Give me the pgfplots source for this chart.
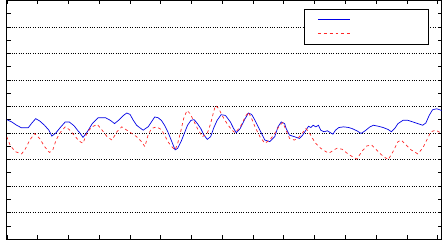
\documentclass[border=0pt]{standalone}
\usepackage{pgfplots}
\pgfplotsset{compat=1.18}
\begin{document}
\begin{tikzpicture}
\begin{axis}[
  scale only axis,
  width=441pt, height=242pt,
  xmin=0, xmax=441, ymin=0, ymax=242,
  y dir=reverse,
  axis line style={black, line width=0.6pt},
  xtick={0,31.2,62.4,93.6,124.8,156,187.2,218.4,249.6,280.8,312,343.2,374.4,405.6,436.8},
  ytick={26.9,53.8,80.7,107.6,134.4,161.3,188.2,215.1},
  minor ytick={13.4,40.3,67.2,94.1,121,147.9,174.8,201.7,228.6},
  xticklabels={}, yticklabels={},
  tick align=inside,
  major tick length=4pt, minor tick length=4pt,
  tick style={black, line width=0.5pt},
  ymajorgrids=true,
  major grid style={black, dotted, line width=0.6pt},
  legend image code/.code={\path[draw=none,fill=none] (0pt,-7pt) rectangle (33pt,7pt); \draw[#1] (0pt,0pt) -- (33pt,0pt);},
  legend style={at={(1,1)}, anchor=north east, xshift=-13pt, yshift=-9pt,
    draw=black, line width=0.6pt, inner xsep=13pt, inner ysep=3.5pt, row sep=0pt,
    nodes={inner ysep=0pt, inner xsep=2pt},
    cells={anchor=west}},
]
\addplot[blue!90!black, line width=0.7pt] coordinates {
(0,121) (5,123.3) (10,126.7) (15,129.3) (21.7,129.3) (25,125) (29.3,120) (33.3,122.3)
(38.3,126.7) (42.7,131.7) (45.7,137.7) (50,134.3) (54,129.3) (59.3,123.3) (63.3,123.3)
(68.3,127.3) (71.7,131.7) (74,134.3) (77.3,139) (81.7,133.3) (86.7,125) (92.7,119)
(100,119) (105,121.7) (109.3,125) (113.3,121.7) (118.3,116.7) (121.7,114.3) (125,115.7)
(128.3,121.7) (131.7,126.7) (135,129.3) (138.3,131.7) (141.7,129.3) (143.3,128.3)
(146.7,123.3) (150,118.3) (153.3,119) (156.7,121.7) (160,126.7) (163.3,133.3)
(166.7,141.7) (170.7,151.7) (173.3,150) (176.7,143.3) (180,135) (183.3,126.7)
(186.7,121.7) (190,121) (193.3,125) (196.7,130) (200,136.7) (203.3,141) (206.7,138.3)
(210,129) (213.3,121.7) (217.3,116) (221.7,116.7) (226.7,123.3) (230,130) (232.7,134.3)
(236.7,130) (241.7,120) (245,114.3) (248.3,115.7) (251.7,121.7) (256.7,131.7)
(261.7,141.7) (266.7,143.3) (271.7,138.3) (275,128.3) (278.3,123.3) (281.7,125)
(283.3,130) (286.7,136.7) (291.7,138.3) (296.7,140) (300,136.7) (303.3,131.7) (306,127.7)
(308.3,129) (310.7,126.7) (313.3,128.3) (316,126.7) (318.3,131.7) (321.7,133.3)
(325,132.3) (328.3,134.3) (330.7,135.7) (333.3,131.7) (336.7,129) (341.7,128.3)
(346.7,129) (350,130) (355,132.3) (359.3,135) (363.3,132.3) (368.3,128.3) (371.7,126.7)
(376.7,127.7) (381.7,129) (386.7,131) (390,133.3) (393.3,130) (396.7,125) (401.7,121.7)
(406.7,121.7) (411.7,123.3) (416.7,125) (421.7,126.7) (425,124.3) (428.3,116.7)
(431.7,111) (436,110) (441,111.7)
};
\addlegendentry{\hspace*{62pt}}
\addplot[red!85!white, dashed, line width=0.7pt] coordinates {
(0,138.3) (3.3,146.7) (8.3,153.3) (15,155.7) (18.3,151.7) (23.3,141.7) (28.3,135)
(33.3,140) (38.3,148.3) (43.3,154.3) (46.7,151.7) (50,141.7) (54,134.3) (59.3,128.3)
(63.3,131) (68.3,136.7) (73.3,142.7) (77.3,145) (81.7,133.3) (86.7,128.3) (91.7,125.7)
(96.7,131.7) (101.7,138.3) (106.7,141.7) (111.7,133.3) (116.7,128.3) (121.7,131.7)
(126.7,135) (131.7,138.3) (136.7,143.3) (140,148.3) (143.3,136.7) (146.7,130)
(151.7,128.3) (156.7,131) (160,136.7) (163.3,143.3) (167.3,148.3) (170.7,151.7)
(173.3,145) (176.7,131.7) (179.3,120) (182.7,111.7) (186,115) (189.3,121.7) (193.3,130)
(198.3,138.3) (203.3,135) (206.7,125) (210,112) (211.7,106.7) (215,110) (218.3,116.7)
(223.3,125) (228.3,131.7) (231.7,134.3) (236.7,128.3) (241.7,118.3) (245,113.3)
(248.3,120) (251.7,128.3) (256.7,138.3) (261.7,145) (266.7,141.7) (271.7,135)
(276.7,126.7) (280,124) (283.3,132) (286.7,140) (291.7,141.7) (296.7,138.3) (300,134.3)
(303.3,130) (306.7,134.3) (310,140) (313.3,145) (318.3,150) (323.3,153.3) (326.7,155)
(331.7,151.7) (335,150) (340,151) (345,155) (350,158.3) (355,161) (360,153.3)
(365,147.7) (370,146.7) (375,151.7) (380,156.7) (386.7,161.7) (391.7,153.3)
(396.7,143.3) (400,141.7) (405,146.7) (410,151.7) (416.7,155.7) (421.7,150)
(426.7,140) (430,133.3) (435,131.7) (441,135)
};
\addlegendentry{\hspace*{62pt}}
\end{axis}
\end{tikzpicture}
\end{document}
